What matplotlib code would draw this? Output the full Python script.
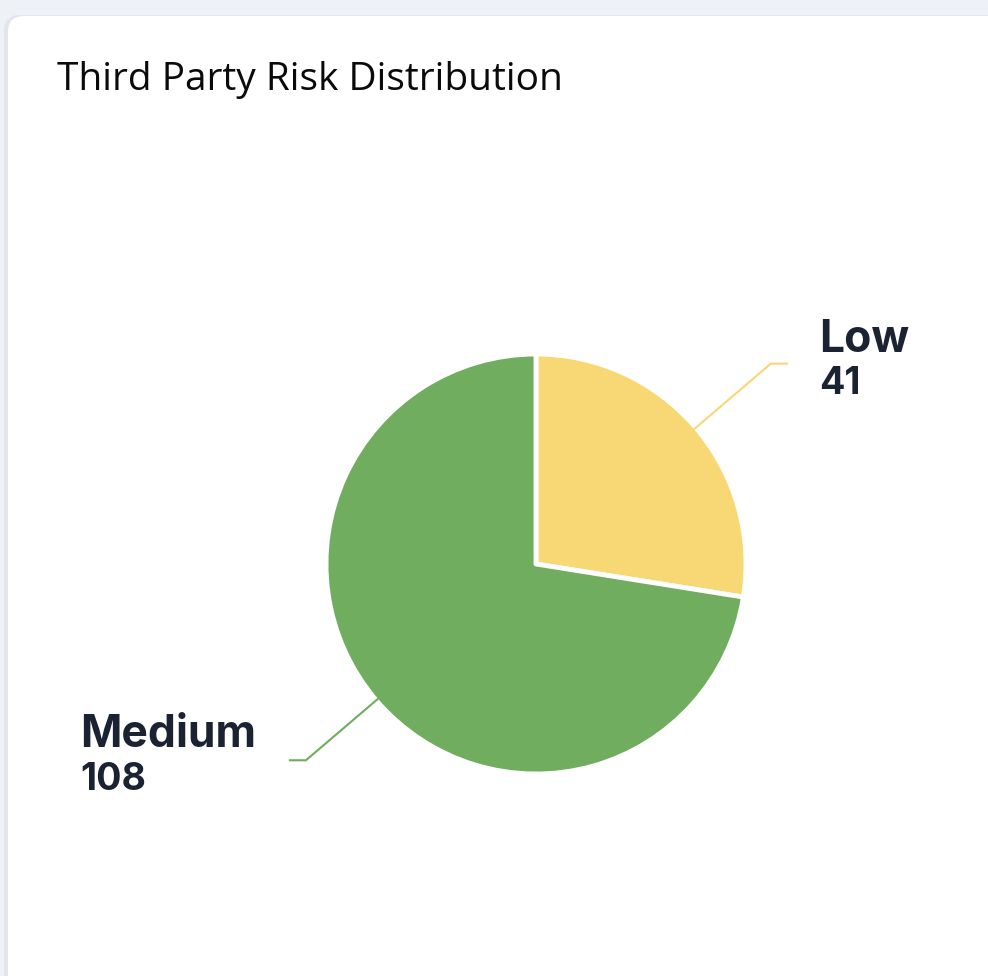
import matplotlib
matplotlib.use('Agg')
import matplotlib.pyplot as plt
from matplotlib.patches import FancyBboxPatch
import numpy as np

# ---- data ----
categories = ['Low', 'Medium']
values = [41, 108]
colors = ['#F8D775', '#70AD5F']
title = 'Third Party Risk Distribution'

W, H = 988, 976
fig = plt.figure(figsize=(W / 100, H / 100), dpi=100)
fig.patch.set_facecolor('#EEF1F6')
ax = fig.add_axes([0, 0, 1, 1])
ax.axis('off')

# card with a faint shadow
shadow = FancyBboxPatch((4, -60), 1100, H - 16 + 60 + 1, boxstyle='round,pad=0,rounding_size=16',
                        facecolor='#E1E5EC', edgecolor='none', zorder=0)
card = FancyBboxPatch((8, -60), 1100, H - 16 + 60, boxstyle='round,pad=0,rounding_size=16',
                      facecolor='white', edgecolor='none', zorder=1)
ax.add_patch(shadow)
ax.add_patch(card)

ax.text(57, H - 90, title, fontsize=28, family='Open Sans', color='#0A0A0A',
        va='baseline', ha='left', zorder=3)

cx, cy, R = 536, H - 564, 210
wedges, _ = ax.pie(values, colors=colors, startangle=90, counterclock=False,
                   center=(cx, cy), radius=R,
                   wedgeprops=dict(edgecolor='white', linewidth=3.5, joinstyle='round'))
for w in wedges:
    w.set_zorder(2)

ax.set_xlim(0, W)
ax.set_ylim(0, H)
ax.set_aspect('auto')

fig.canvas.draw()
renderer = fig.canvas.get_renderer()
txt_color = '#1B2333'
for w, name, val, col in zip(wedges, categories, values, colors):
    mid = np.deg2rad((w.theta1 + w.theta2) / 2)
    c, s = np.cos(mid), np.sin(mid)
    p0 = (cx + (R - 2) * c, cy + (R - 2) * s)
    sgn = 1 if c >= 0 else -1
    k = 1.47 if sgn > 0 else 1.44
    p1 = (cx + k * R * c, cy + k * R * s)
    p2 = (p1[0] + sgn * 16, p1[1])
    ax.plot([p0[0], p1[0], p2[0]], [p0[1], p1[1], p2[1]], color=col, lw=1.5,
            solid_joinstyle='miter', zorder=3)
    if sgn > 0:
        left = p2[0] + 32
        ax.text(left, p1[1] + 12, name, fontsize=32, family='Inter',
                weight='bold', color=txt_color, ha='left', va='baseline', zorder=3)
    else:
        t = ax.text(p2[0] - 34, p1[1] + 13, name, fontsize=32, family='Inter',
                    weight='bold', color=txt_color, ha='right', va='baseline', zorder=3)
        bb = t.get_window_extent(renderer)
        left = bb.x0
    ax.text(left, p1[1] - 30, str(val), fontsize=27, family='Inter',
            weight='bold', color=txt_color, ha='left', va='baseline', zorder=3)

fig.savefig('out.png', dpi=100, facecolor=fig.get_facecolor())
